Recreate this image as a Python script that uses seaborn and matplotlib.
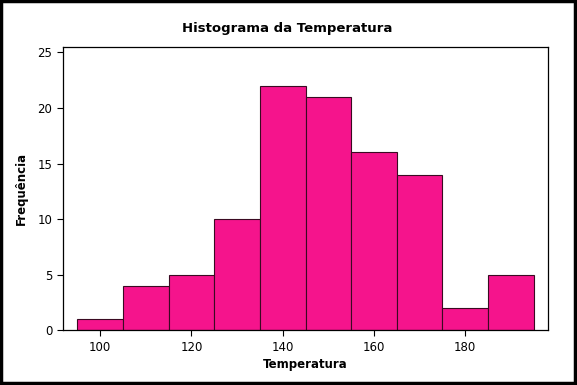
import matplotlib
matplotlib.use("Agg")
import matplotlib.pyplot as plt
import seaborn as sns
from matplotlib.patches import Rectangle

# bin centres and counts
temperatura = [100, 110, 120, 130, 140, 150, 160, 170, 180, 190]
frequencia = [1, 4, 5, 10, 22, 21, 16, 14, 2, 5]
bin_edges = [95, 105, 115, 125, 135, 145, 155, 165, 175, 185, 195]
x_ticks = [100, 120, 140, 160, 180]
y_ticks = [0, 5, 10, 15, 20, 25]

sns.set_style("ticks")
plt.rcParams["font.family"] = ["DejaVu Sans"]
plt.rcParams["text.color"] = "black"
plt.rcParams["axes.labelcolor"] = "black"
plt.rcParams["xtick.color"] = "black"
plt.rcParams["ytick.color"] = "black"

fig = plt.figure(figsize=(5.77, 3.85), dpi=100)
ax = fig.add_axes([0.1087, 0.1421, 0.8416, 0.735])

sns.histplot(x=temperatura, weights=frequencia, bins=bin_edges, color="#F5148C",
             edgecolor="#3a0a22", linewidth=0.8, alpha=1, ax=ax)

ax.set_xlim(91.8, 198.2)
ax.set_ylim(0, 25.45)
ax.set_xticks(x_ticks)
ax.set_yticks(y_ticks)
ax.tick_params(direction="out", length=4, width=0.8, labelsize=8.5)
for side in ax.spines.values():
    side.set_color("black")
    side.set_linewidth(0.9)

ax.set_xlabel("Temperatura", fontsize=8.5, fontweight="bold", labelpad=3)
ax.set_ylabel("Frequência", fontsize=8.5, fontweight="bold", labelpad=7)
fig.text(0.497, 0.925, "Histograma da Temperatura", ha="center", va="center",
         fontsize=9.5, fontweight="bold")

fig.patches.append(Rectangle((0.002, 0.004), 0.994, 0.993, transform=fig.transFigure,
                             fill=False, edgecolor="black", linewidth=2.5))

fig.savefig("out.png", dpi=100)
